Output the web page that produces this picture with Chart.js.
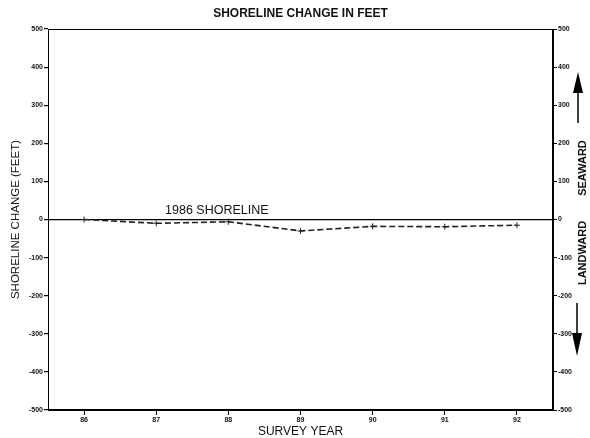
<!DOCTYPE html>
<html>
<head>
<meta charset="utf-8">
<script src="https://cdn.jsdelivr.net/npm/chart.js@4/dist/chart.umd.min.js"></script>
<style>
html,body{margin:0;padding:0;background:#fff;}
#c{display:block;}
</style>
</head>
<body>
<canvas id="c" width="590" height="438"></canvas>
<script>
// ---- data ----
const surveyYears = [86, 87, 88, 89, 90, 91, 92];
const shorelineChange = [0, -10, -6, -30, -18, -19, -15];
const yTickValues = [500, 400, 300, 200, 100, 0, -100, -200, -300, -400, -500];
const titleText = "SHORELINE CHANGE IN FEET";
const xTitleText = "SURVEY YEAR";
const yTitleText = "SHORELINE CHANGE (FEET)";
const baselineLabel = "1986 SHORELINE";
const seawardLabel = "SEAWARD";
const landwardLabel = "LANDWARD";

const FONT = "'Liberation Sans', Arial, sans-serif";
const tickFont = {family: FONT, size: 7, weight: 'bold'};

const annot = {
  id: 'annot',
  afterDraw(chart) {
    const ctx = chart.ctx;
    const a = chart.chartArea;
    const xs = chart.scales.x, ys = chart.scales.y;
    ctx.save();
    // frame
    ctx.strokeStyle = '#000';
    ctx.lineWidth = 1;
    ctx.strokeRect(a.left + 0.5, a.top + 0.5, a.right - a.left - 1, a.bottom - a.top - 1);
    ctx.fillStyle = '#111';
    // title
    ctx.font = "bold 12px " + FONT;
    ctx.textAlign = 'center';
    ctx.textBaseline = 'middle';
    ctx.fillText(titleText, 300.5, 14);
    // x title
    ctx.font = "12px " + FONT;
    ctx.fillText(xTitleText, 300.5, 432);
    // baseline label
    ctx.font = "12.5px " + FONT;
    ctx.textBaseline = 'alphabetic';
    ctx.fillText(baselineLabel, xs.getPixelForValue(87.84), ys.getPixelForValue(0) - 6);
    // y title
    ctx.save();
    ctx.translate(16, (a.top + a.bottom) / 2);
    ctx.rotate(-Math.PI / 2);
    ctx.textBaseline = 'middle';
    ctx.font = "11.5px " + FONT;
    ctx.fillText(yTitleText, 0, 0);
    ctx.restore();
    // right side labels
    ctx.font = "bold 11px " + FONT;
    ctx.textBaseline = 'middle';
    ctx.save();
    ctx.translate(583, 168);
    ctx.rotate(-Math.PI / 2);
    ctx.fillText(seawardLabel, 0, 0);
    ctx.restore();
    ctx.save();
    ctx.translate(583, 253);
    ctx.rotate(-Math.PI / 2);
    ctx.fillText(landwardLabel, 0, 0);
    ctx.restore();
    // arrows
    ctx.strokeStyle = '#000';
    ctx.lineWidth = 1.5;
    ctx.beginPath();
    ctx.moveTo(578, 123); ctx.lineTo(578, 90);
    ctx.moveTo(577, 303); ctx.lineTo(577, 336);
    ctx.stroke();
    ctx.fillStyle = '#000';
    ctx.beginPath();
    ctx.moveTo(578, 72); ctx.lineTo(573, 93); ctx.lineTo(583, 93); ctx.closePath();
    ctx.fill();
    ctx.beginPath();
    ctx.moveTo(577, 356); ctx.lineTo(572, 333); ctx.lineTo(582, 333); ctx.closePath();
    ctx.fill();
    ctx.restore();
  }
};

new Chart(document.getElementById('c'), {
  type: 'line',
  data: {
    datasets: [{
      data: surveyYears.map((x, i) => ({x: x, y: shorelineChange[i]})),
      borderColor: '#222',
      borderWidth: 1.6,
      borderDash: [6, 3],
      pointStyle: 'cross',
      pointRadius: 3,
      pointBorderWidth: 1,
      pointBorderColor: '#222',
      fill: false,
      tension: 0
    }]
  },
  plugins: [annot],
  options: {
    responsive: false,
    animation: false,
    devicePixelRatio: 1,
    layout: {padding: {top: 29, left: 0, right: 0, bottom: 0}},
    plugins: {legend: {display: false}, tooltip: {enabled: false}, title: {display: false}},
    scales: {
      x: {
        type: 'linear', position: 'bottom', min: 85.5, max: 92.5,
        afterBuildTicks: s => { s.ticks = surveyYears.map(v => ({value: v})); },
        afterFit: s => { s.height = 28; },
        grid: {drawOnChartArea: false, tickLength: 5, color: '#000', tickColor: '#000'},
        border: {color: '#000', width: 1},
        ticks: {font: tickFont, color: '#111', padding: 1, maxRotation: 0, autoSkip: false}
      },
      y: {
        type: 'linear', position: 'left', min: -500, max: 500,
        afterBuildTicks: s => { s.ticks = yTickValues.map(v => ({value: v})); },
        afterFit: s => { s.width = 48; },
        grid: {
          drawOnChartArea: true, tickLength: 4, tickColor: '#000',
          color: c => (c.tick && c.tick.value === 0) ? '#000' : 'rgba(0,0,0,0)',
          lineWidth: 1.2
        },
        border: {color: '#000', width: 1},
        ticks: {font: tickFont, color: '#111', padding: 1, autoSkip: false}
      },
      y2: {
        type: 'linear', position: 'right', min: -500, max: 500,
        afterBuildTicks: s => { s.ticks = yTickValues.map(v => ({value: v})); },
        afterFit: s => { s.width = 37; },
        grid: {drawOnChartArea: false, tickLength: 4, color: '#000', tickColor: '#000'},
        border: {color: '#000', width: 1},
        ticks: {font: tickFont, color: '#111', padding: 1, autoSkip: false}
      }
    }
  }
});
</script>
</body>
</html>
